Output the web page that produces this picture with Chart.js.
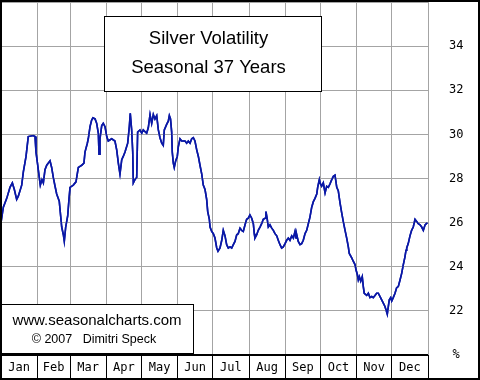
<!DOCTYPE html>
<html>
<head>
<meta charset="utf-8">
<script src="https://cdn.jsdelivr.net/npm/chart.js@4/dist/chart.umd.min.js"></script>
</head>
<body style="margin:0">
<canvas id="c" width="480" height="380"></canvas>
<script>
// ---- data ----
const months = ['Jan','Feb','Mar','Apr','May','Jun','Jul','Aug','Sep','Oct','Nov','Dec'];
const monthStartDays = [0,31,59,90,120,151,181,212,243,273,304,334,365];
const yTickValues = [20,22,24,26,28,30,32,34,36];
const titleLines = ['Silver Volatility','Seasonal 37 Years'];
const creditLines = ['www.seasonalcharts.com','\u00A9 2007   Dimitri Speck'];

const days = [
0,2.0,4.9,7.7,9.7,11.4,13.4,14.8,17.7,19.1,21.4,23.3,27.6,29.1,29.9,31.4,32.7,33.6,35.0,36.2,
37.6,39.1,41.9,43.3,44.7,46.2,47.6,49.8,51.0,51.9,53.3,54.1,55.3,57.0,58.1,59.0,61.8,64.1,66.1,67.5,
69.0,70.9,71.8,73.8,74.6,76.1,77.5,78.6,80.4,81.8,83.2,83.8,84.6,86.1,87.4,88.9,90.4,91.7,94.6,97.4,
98.9,100.3,101.7,103.2,104.5,106.0,108.3,109.7,110.5,111.7,112.6,113.1,114.5,116.0,116.8,118.8,120.3,121.6,124.5,125.9,
127.4,128.8,130.2,131.6,133.1,134.5,135.9,137.4,138.7,139.6,141.6,143.0,143.9,144.9,145.9,146.4,147.3,148.1,149.3,150.7,
151.6,153.0,154.5,157.3,158.7,160.1,161.6,163.0,164.4,165.8,167.3,168.7,170.1,171.6,172.9,174.4,175.8,176.7,178.1,178.7,
180.1,181.5,182.9,184.4,185.5,187.2,188.7,190.0,191.5,192.9,194.3,195.8,197.2,198.6,200.0,201.5,202.8,204.3,205.7,207.1,
208.6,210.0,211.4,212.8,214.3,215.7,216.5,217.1,218.6,219.9,221.4,222.8,224.2,225.7,226.5,227.6,228.5,229.9,231.4,232.8,
234.2,235.7,237.0,238.5,239.9,241.3,242.8,244.2,245.6,247.0,248.5,249.9,251.3,252.2,252.8,254.1,255.6,257.0,258.4,259.9,
261.3,262.7,264.1,265.6,267.0,268.4,269.9,270.7,272.1,272.7,274.1,275.5,277.0,278.4,279.8,281.2,282.7,284.1,285.5,287.0,
288.3,289.8,291.2,292.6,294.1,295.5,296.9,297.7,299.8,301.1,302.6,303.5,304.6,305.4,306.3,307.5,308.8,309.7,310.5,312.6,
314.0,315.4,316.9,318.2,319.7,321.1,322.5,324.0,325.4,326.8,328.2,329.1,330.2,331.1,331.9,333.1,334.0,335.3,336.8,338.2,
339.6,341.1,342.5,343.9,345.3,346.2,346.8,348.1,349.6,351.0,352.4,353.9,355.3,356.7,358.2,359.6,361.0,362.5,364.5
];
const volatility = [
26.0,26.7,27.1,27.6,27.8,27.5,27.05,27.2,27.7,28.3,29.0,29.9,29.95,29.9,29.2,28.6,28.05,27.7,27.95,27.8,
28.4,28.6,28.8,28.5,28.05,27.65,27.3,26.97,26.3,25.8,25.45,25.15,25.8,26.3,27.05,27.6,27.7,27.85,28.5,28.55,
28.6,28.7,29.2,29.6,29.8,30.35,30.65,30.75,30.7,30.5,30.05,29.1,29.8,30.4,30.5,30.35,29.9,29.7,29.8,29.7,
29.3,28.7,28.2,28.85,29.0,29.2,29.6,30.35,30.95,30.2,29.2,27.8,27.95,28.05,30.1,30.2,30.05,30.2,30.05,30.3,
30.9,30.5,30.9,30.7,30.85,30.2,29.85,29.6,29.5,30.2,30.45,30.6,30.85,30.7,30.1,29.2,28.7,28.5,28.8,29.0,
29.45,29.8,29.7,29.7,29.6,29.7,29.6,29.8,29.85,29.7,29.3,29.0,28.6,28.2,27.7,27.5,27.05,26.5,26.15,25.8,
25.6,25.5,25.3,24.85,24.7,24.85,25.2,25.65,25.4,25.0,24.85,24.9,24.85,25.0,25.15,25.45,25.5,25.75,25.65,25.6,
25.9,26.15,26.2,26.35,26.2,25.95,25.5,25.3,25.45,25.65,25.8,25.95,26.15,26.2,26.5,26.15,25.8,25.9,25.75,25.65,
25.5,25.4,25.2,25.0,24.85,24.9,25.05,25.2,25.3,25.2,25.4,25.3,25.6,25.3,25.45,25.15,25.0,25.05,25.2,25.5,
25.65,25.95,26.25,26.7,26.95,27.1,27.3,27.6,27.95,27.8,27.65,27.8,27.35,27.65,27.6,27.75,27.95,28.1,28.15,27.6,
27.45,26.9,26.45,26.05,25.65,25.3,24.9,24.6,24.4,24.25,24.1,23.85,23.65,23.4,23.55,23.35,23.55,23.1,22.8,22.7,
22.8,22.6,22.65,22.6,22.7,22.8,22.8,22.65,22.5,22.35,22.2,22.05,21.85,22.2,22.5,22.6,22.45,22.6,22.8,23.05,
23.1,23.4,23.7,24.1,24.45,24.75,24.85,25.05,25.4,25.65,25.8,26.15,26.05,25.95,25.9,25.8,25.65,25.9,26.0
];

const GRID = '#a4a4a4';
const PIXFONT = '"DejaVu Sans Mono", "Liberation Mono", monospace';

const decor = {
  id: 'decor',
  afterDraw(chart) {
    const {ctx, chartArea: a, scales: {x, y}} = chart;
    ctx.save();
    // horizontal grid rows at the y scale's inner ticks, then the line again on top
    ctx.fillStyle = GRID;
    for (let i = 1; i < yTickValues.length - 1; i++) {
      const py = Math.floor(y.getPixelForValue(yTickValues[i]));
      ctx.fillRect(a.left, py, a.right - a.left, 1);
    }
    const meta = chart.getDatasetMeta(0);
    if (meta && meta.dataset) {
      ctx.save();
      ctx.beginPath();
      ctx.rect(a.left, a.top, a.right - a.left, a.bottom - a.top);
      ctx.clip();
      meta.dataset.draw(ctx, a);
      ctx.restore();
    }
    // month labels
    ctx.fillStyle = '#000';
    ctx.font = '12px ' + PIXFONT;
    ctx.textAlign = 'center';
    ctx.textBaseline = 'alphabetic';
    months.forEach((m, i) => {
      const cx = (x.getPixelForValue(monthStartDays[i]) + x.getPixelForValue(monthStartDays[i + 1])) / 2;
      ctx.fillText(m, cx, a.bottom + 16);
    });
    // title box
    ctx.fillStyle = '#fff';
    ctx.fillRect(104, 16, 217, 76);
    ctx.lineWidth = 1;
    ctx.strokeStyle = '#000';
    ctx.strokeRect(104.5, 16.5, 217, 75);
    ctx.fillStyle = '#000';
    ctx.font = '18.5px "Liberation Sans", Arial, sans-serif';
    ctx.fillText(titleLines[0], 208.5, 43.5);
    ctx.fillText(titleLines[1], 208.5, 72.7);
    // credit box
    ctx.fillStyle = '#fff';
    ctx.fillRect(0, 304, 193, 50);
    ctx.strokeRect(0.5, 304.5, 193, 49);
    ctx.fillStyle = '#000';
    ctx.font = '15px "Liberation Sans", Arial, sans-serif';
    ctx.fillText(creditLines[0], 97, 325);
    ctx.font = '12.5px "Liberation Sans", Arial, sans-serif';
    ctx.fillText(creditLines[1], 94, 342.7);
    // month band top line
    ctx.fillRect(0, a.bottom - 1, a.right, 2);
    // outer border
    ctx.lineWidth = 2;
    ctx.strokeRect(1, 1, 478, 378);
    ctx.restore();
  }
};

new Chart(document.getElementById('c'), {
  type: 'line',
  data: {
    datasets: [{
      data: days.map((d, i) => ({x: d, y: volatility[i]})),
      borderColor: '#0a18a6',
      borderWidth: 1.6,
      pointRadius: 0,
      tension: 0
    }]
  },
  options: {
    responsive: false,
    animation: false,
    events: [],
    layout: {padding: {left: 1, top: 2, right: 0, bottom: 0}},
    plugins: {legend: {display: false}, tooltip: {enabled: false}},
    scales: {
      x: {
        type: 'linear',
        min: 0,
        max: 365,
        afterBuildTicks: s => { s.ticks = monthStartDays.map(v => ({value: v})); },
        afterFit: s => { s.height = 25; },
        ticks: {display: false},
        grid: {color: GRID, drawTicks: true, tickLength: 23, tickColor: '#000'},
        border: {display: false}
      },
      y: {
        type: 'linear',
        position: 'right',
        min: 20,
        max: 36,
        afterBuildTicks: s => { s.ticks = yTickValues.map(v => ({value: v})); },
        afterFit: s => { s.width = 52; s.paddingTop = 0; s.paddingBottom = 0; },
        ticks: {
          callback: v => v === 20 ? '%' : (v === 36 ? '' : String(v)),
          font: {family: PIXFONT, size: 12},
          color: '#000',
          padding: 0,
          crossAlign: 'center'
        },
        grid: {color: GRID, drawTicks: true, tickLength: 21, tickColor: 'rgba(0,0,0,0)'},
        border: {display: false}
      }
    }
  },
  plugins: [decor]
});
</script>
</body>
</html>
